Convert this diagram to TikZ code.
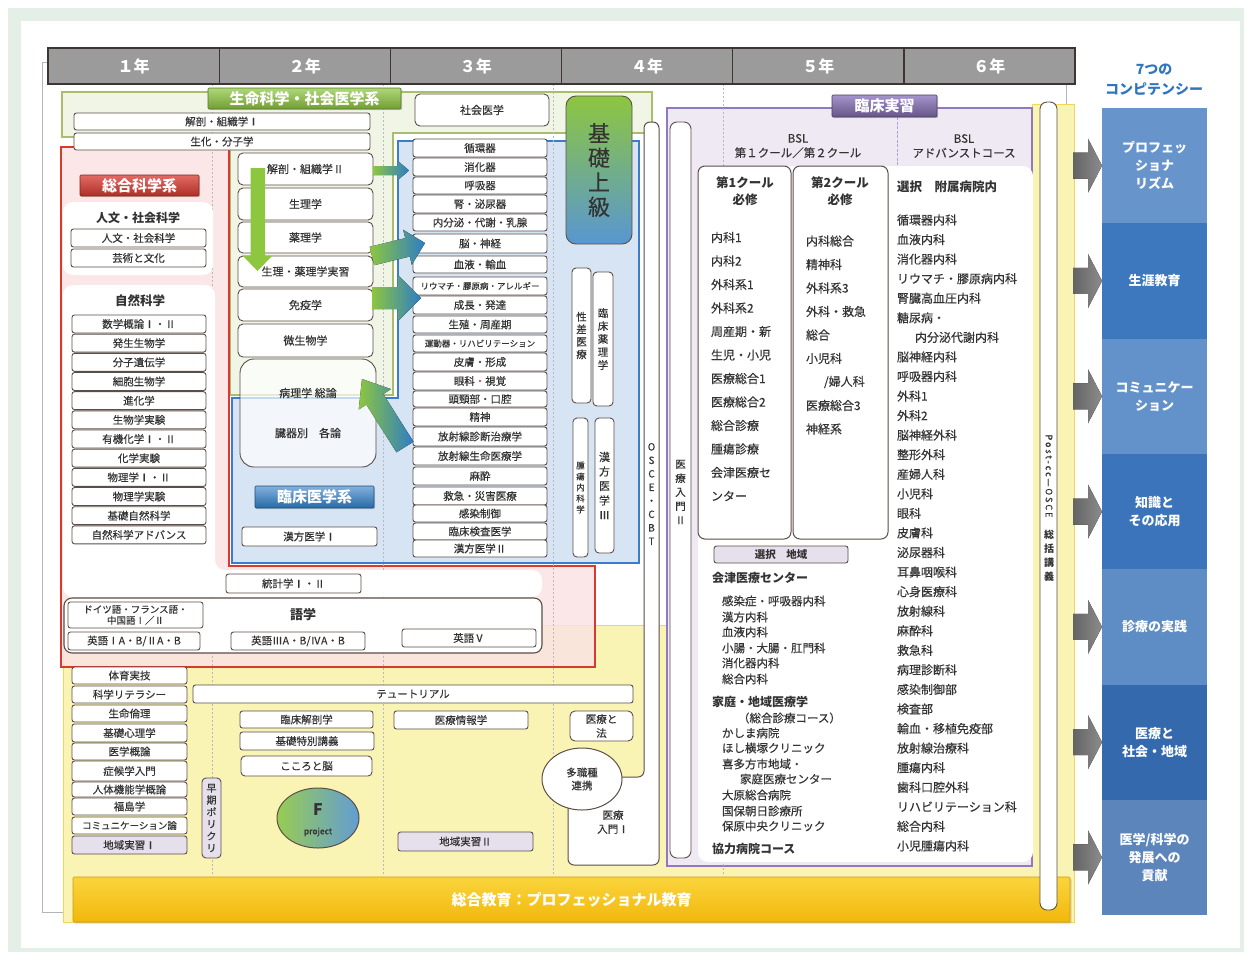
\documentclass[tikz,border=0pt]{standalone}
\usepackage{fontspec}
\setmainfont{Noto Sans CJK JP}[UprightFeatures={FakeBold=0.3}]
\usetikzlibrary{shapes.geometric,shadows}
\definecolor{pagebg}{HTML}{E4EFE8}
\definecolor{hdr}{HTML}{9B9B9B}
\definecolor{hdrl}{HTML}{3E3431}
\definecolor{frm}{HTML}{B5B5B5}
\definecolor{gfill}{HTML}{F1F5E6}
\definecolor{gline}{HTML}{A9BD6C}
\definecolor{rfill}{HTML}{FBE3E3}
\definecolor{rline}{HTML}{D93A30}
\definecolor{bfill}{HTML}{D7E4F3}
\definecolor{bline}{HTML}{3A7DCC}
\definecolor{yfill}{HTML}{FAF4B4}
\definecolor{yline}{HTML}{F2D65A}
\definecolor{pfill}{HTML}{EEE9F2}
\definecolor{pline}{HTML}{9079C0}
\definecolor{lav}{HTML}{E5E0EC}
\definecolor{bxl}{HTML}{5B4E48}
\definecolor{txt}{HTML}{333333}
\definecolor{agreen}{HTML}{8DC63F}
\definecolor{ablue}{HTML}{2E7CC6}
\definecolor{acyan}{HTML}{BFE3E0}
\definecolor{ttlblue}{HTML}{2F75C0}
\definecolor{gbar}{HTML}{6F6F6F}
\definecolor{orTop}{HTML}{FAD43C}
\definecolor{orBot}{HTML}{F2B80C}
\definecolor{cA}{HTML}{6694CB}
\definecolor{cB}{HTML}{3D78BE}
\definecolor{cC}{HTML}{6391C9}
\definecolor{cD}{HTML}{3B74BA}
\definecolor{cE}{HTML}{5E8DC6}
\definecolor{cF}{HTML}{3569AE}
\definecolor{cG}{HTML}{5C86BB}
\newcommand\fz[2]{\fontsize{#1}{#2}\selectfont}
\newcommand\bx[7][]{%
  \pgfmathsetmacro\bxw{#5-(#3)}%
  \pgfmathsetmacro\bxh{#6-(#4)}%
  \node[bx,minimum width=\bxw pt,minimum height=\bxh pt,anchor=north west,#1] (#2) at (#3,#4) {#7};}
\begin{document}
\begin{tikzpicture}[x=1pt,y=-1pt,
 every node/.style={inner sep=0pt,outer sep=0pt,text=txt},
 bx/.style={draw=bxl,line width=0.9pt,fill=white,rounded corners=2.5pt,font=\fz{10.5}{12},align=center},
 bxr/.style={rounded corners=5pt,font=\fz{11}{13}},
 hd/.style={fill=hdr,draw=hdrl,line width=1.3pt,rounded corners=0pt,text=white,font=\fz{16}{17}\bfseries},
 lab/.style={line width=0.6pt,rounded corners=1pt,text=white,font=\fz{15}{16}\bfseries,drop shadow={shadow xshift=1.2pt,shadow yshift=-1.2pt,opacity=0.35}},
 it/.style={anchor=west,font=\fz{12}{14}},
 itd/.style={anchor=west,font=\fz{11.5}{13}},
 itb/.style={anchor=west,font=\fz{12}{14}\bfseries},
 garrow/.style={left color=agreen,middle color=acyan,right color=ablue},
 ]
% page
\fill[white] (0,0) rectangle (1252,959);
\fill[pagebg] (8,8) rectangle (1244,952);
\fill[white] (21,21) rectangle (1240,948);
\useasboundingbox (0,0) rectangle (1252,959);
\draw[frm,line width=0.8pt] (42,62) rectangle (1066,912);
% regions
\draw[yline,fill=yfill,line width=1pt] (63,625) -- (1032,625) -- (1032,104) -- (1074,104) -- (1074,922) -- (63,922) -- cycle;
\draw[gline,fill=gfill,line width=1.3pt] (62,92) -- (652,92) -- (652,133) -- (393,133) -- (393,395) -- (230,395) -- (230,137) -- (62,137) -- cycle;
\draw[rline,fill=rfill,fill opacity=0.85,line width=1.5pt] (61,147) -- (229,147) -- (229,566) -- (595,566) -- (595,667) -- (61,667) -- cycle;
\draw[bline,fill=bfill,line width=1.2pt] (398,141) -- (639,141) -- (639,563) -- (232,563) -- (232,398) -- (398,398) -- cycle;
\draw[pline,fill=pfill,line width=1.3pt] (667,108) rectangle (1032,866);
\draw[pline!70,line width=0.8pt,dash pattern=on 3pt off 1.5pt] (897,108) -- (897,166);
% year separators
\foreach \xx in {212,383,553,723}
  \draw[gray!55,dash pattern=on 2pt off 2pt,line width=0.7pt] (\xx,84) -- (\xx,876);
% white panels
\fill[white,rounded corners=10pt] (63,202) rectangle (213,275);
\fill[white,rounded corners=10pt] (63,285) -- (215,285) -- (215,570) -- (542,570) -- (542,597) -- (63,597) -- cycle;
\fill[white,rounded corners=10pt] (698,166) -- (1033,166) -- (1033,862) -- (698,862) -- cycle;
% header
\foreach \l [count=\i from 0] in {１年,２年,３年,４年,５年,６年}{
  \pgfmathsetmacro\xa{48+\i*171.17}\pgfmathsetmacro\xb{48+(\i+1)*171.17}
  \bx[hd]{h\i}{\xa}{48}{\xb}{84}{\l}}
% labels
\bx[lab,top color=agreen!70!white,bottom color=agreen!80!black,draw=agreen!60!black]{lg}{208}{88}{401}{109}{生命科学・社会医学系}
\bx[lab,top color=rline!75!white,bottom color=rline!80!black,draw=rline!60!black]{lr}{80}{175}{199}{196}{総合科学系}
\bx[lab,top color=ablue!60!white,bottom color=ablue!85!black,draw=ablue!60!black]{lb}{255}{486}{374}{508}{臨床医学系}
\bx[lab,top color=pline!80!white,bottom color=pline!70!black,draw=pline!50!black]{lp}{832}{95}{937}{117}{臨床実習}
% green top boxes
\bx{g1}{74}{113}{370}{130}{解剖・組織学Ⅰ}
\bx{g2}{74}{133}{370}{150}{生化・分子学}
\bx[bxr]{g3}{415}{94}{549}{126}{社会医学}
% humanities
\node[font=\fz{12}{14}\bfseries] (hum) at (138,218) {人文・社会科学};
\bx{hu1}{71}{229}{206}{247}{人文・社会科学}
\bx{hu2}{71}{249}{206}{267}{芸術と文化}
\node[font=\fz{12.5}{14}\bfseries] (nat) at (140,301) {自然科学};
\foreach \t [count=\i from 0] in {数学概論Ⅰ・Ⅱ,発生生物学,分子遺伝学,細胞生物学,進化学,生物学実験,有機化学Ⅰ・Ⅱ,化学実験,物理学Ⅰ・Ⅱ,物理学実験,基礎自然科学,自然科学アドバンス}{
  \pgfmathsetmacro\ya{315+\i*19.17}\pgfmathsetmacro\yb{315+(\i+1)*19.17-1.2}
  \bx{ns\i}{72}{\ya}{206}{\yb}{\t}}
% column 2
\bx[bxr]{c2a}{238}{153}{373}{185}{解剖・組織学Ⅱ}
\bx[bxr]{c2b}{238}{188}{373}{220}{生理学}
\bx[bxr]{c2c}{238}{222}{373}{253}{薬理学}
\bx[bxr]{c2d}{238}{256}{373}{287}{生理・薬理学実習}
\bx[bxr]{c2e}{238}{289}{373}{321}{免疫学}
\bx[bxr]{c2f}{238}{324}{373}{357}{微生物学}
\bx[bxr,rounded corners=14pt,fill opacity=0.7,text opacity=1]{c2g}{240}{359}{376}{467}{}
\node[font=\fz{11}{13}] (pa1) at (308,393) {病理学 総論};
\node[font=\fz{11}{13}] (pa2) at (308,433) {臓器別\quad 各論};
\bx{k1}{242}{527}{377}{546}{漢方医学Ⅰ}
% column 3 stack
\foreach \t/\a/\b [count=\i] in {循環器/139/157,消化器/158/176,呼吸器/177/194,腎・泌尿器/195/213,内分泌・代謝・乳腺/214/231,脳・神経/234/253,血液・輸血/256/273,{\fz{8.5}{9}リウマチ・膠原病・アレルギー}/277/295,成長・発達/296/314,生殖・周産期/316/333,{\fz{8.5}{9}運動器・リハビリテーション}/335/352,皮膚・形成/353/371,眼科{\color{rline}・}視覚/372/390,頭頸部・口腔/391/407,精神/408/426,放射線診断治療学/427/446,放射線生命医療学/447/465,麻酔/467/485,救急・災害医療/487/505,感染制御/505/522,臨床検査医学/523/540,漢方医学Ⅱ/540/557}{
  \bx{s\i}{413}{\a}{547}{\b}{\t}}
% vertical boxes col3
\bx[rounded corners=10pt,top color=agreen,middle color=acyan,bottom color=ablue!80!white,font=\fz{22}{24.5},draw=bxl]{kj}{566}{96}{632}{244}{基\\礎\\上\\級}
\bx[rounded corners=4pt,font=\fz{10.5}{12.5}]{v1}{572}{268}{591}{403}{性\\差\\医\\療}
\bx[rounded corners=4pt,font=\fz{10.5}{13}]{v2}{593}{272}{613}{406}{臨\\床\\薬\\理\\学}
\bx[rounded corners=4pt,font=\fz{8.5}{11}]{v3}{573}{418}{588}{557}{腫\\瘍\\内\\科\\学}
\bx[rounded corners=4pt,font=\fz{11}{14.5}]{v4}{595}{418}{614}{553}{漢\\方\\医\\学\\Ⅲ}
% stats + language
\bx{st}{226}{574}{361}{593}{統計学Ⅰ・Ⅱ}
\bx[rounded corners=8pt,line width=1.1pt]{lang}{64}{598}{542}{653}{}
\node[font=\fz{13}{14}\bfseries] (langt) at (303,615) {語学};
\bx[font=\fz{9.5}{11}]{l1}{68}{602}{203}{628}{ドイツ語・フランス語・\\中国語Ⅰ／Ⅱ}
\bx{l2}{68}{632}{200}{650}{英語ⅠA・B/ⅡA・B}
\bx{l3}{231}{632}{365}{650}{英語ⅢA・B/ⅣA・B}
\bx{l4}{402}{629}{536}{647}{英語Ⅴ}
% yellow area
\foreach \t/\a/\b [count=\i] in {体育実技/667/684,科学リテラシー/686/703,生命倫理/705/722,基礎心理学/724/742,医学概論/743/760,症候学入門/761/781,人体機能学概論/782/797,福島学/798/815,{\fz{9.5}{10}コミュニケーション論}/817/834}{
  \bx{y\i}{72}{\a}{187}{\b}{\t}}
\bx[fill=lav]{y10}{72}{836}{187}{854}{地域実習Ⅰ}
\bx[fill=lav,rounded corners=4pt,font=\fz{10}{12}]{pol}{202}{778}{221}{858}{早\\期\\ポ\\リ\\ク\\リ}
\bx{tut}{193}{685}{633}{703}{テュートリアル}
\bx{ka}{240}{711}{373}{728}{臨床解剖学}
\bx{kt}{240}{732}{374}{750}{基礎特別講義}
\bx[rounded corners=4pt]{kk}{241}{756}{372}{776}{こころと脳}
\bx{ij}{394}{711}{528}{729}{医療情報学}
\bx[rounded corners=5pt,font=\fz{10.5}{14}]{ih}{570}{711}{633}{741}{医療と\\法}
\bx[fill=lav]{cj2}{398}{832}{533}{851}{地域実習Ⅱ}
\node[ellipse,draw=bxl,line width=1pt,minimum width=82pt,minimum height=60pt,left color=agreen!90!white,middle color=acyan,right color=ablue!75!white] (fp) at (318,818) {};
\node[font=\fz{16}{17}\bfseries] (fpF) at (318,810) {F};
\node[font=\fz{8.5}{9}] (fpp) at (318,832) {project};
% OSCE / 医療入門I
\draw[bxl,line width=1pt,fill=white,rounded corners=6pt] (644,777) -- (644,122) -- (659,122) -- (659,865) -- (568,865) -- (568,777) -- cycle;
\node[align=center,font=\fz{10}{13.5}] (osce) at (651.5,494) {O\\S\\C\\E\\・\\C\\B\\T};
\node[ellipse,draw=bxl,line width=1pt,fill=white,minimum width=80pt,minimum height=62pt,align=center,font=\fz{10.5}{13}] (tas) at (582,779) {多職種\\連携};
\node[align=center,font=\fz{10.5}{14}] (mi1) at (613,822) {医療\\入門Ⅰ};
% 医療入門II bar
\bx[rounded corners=7pt]{mi2}{670}{122}{691}{858}{}
\node[align=center,font=\fz{10.5}{14}] (mi2t) at (680.5,492) {医\\療\\入\\門\\Ⅱ};
% clinical
\node[align=center,font=\fz{11.5}{14.5}] (bsl1) at (798,146) {BSL\\第１クール／第２クール};
\node[align=center,font=\fz{11.5}{14.5}] (bsl2) at (964,146) {BSL\\アドバンストコース};
\bx[rounded corners=7pt,line width=1pt]{q1}{698}{166}{791}{539}{}
\bx[rounded corners=7pt,line width=1pt]{q2}{793}{166}{888}{539}{}
\node[align=center,font=\fz{12.5}{17.5}\bfseries] (q1t) at (745,191) {第1クール\\必修};
\node[align=center,font=\fz{12.5}{17.5}\bfseries] (q2t) at (840,191) {第2クール\\必修};
\foreach \t [count=\i from 0] in {内科1,内科2,外科系1,外科系2,周産期・新,生児・小児,医療総合1,医療総合2,総合診療,腫瘍診療,会津医療セ,ンター}{
  \node[it] (a\i) at (711,237.5+\i*23.5) {\t};}
\foreach \xx/\t [count=\i from 0] in {806/内科総合,806/精神科,806/外科系3,806/外科・救急,806/総合,806/小児科,824/{/婦人科},806/医療総合3,806/神経系}{
  \node[it] (b\i) at (\xx,241+\i*23.5) {\t};}
\node[itb,font=\fz{12.5}{14}\bfseries] (selt) at (897,187) {選択\quad 附属病院内};
\foreach \xx/\t [count=\i from 0] in {897/循環器内科,897/血液内科,897/消化器内科,897/リウマチ・膠原病内科,897/腎臓高血圧内科,897/糖尿病・,915/内分泌代謝内科,897/脳神経内科,897/呼吸器内科,897/外科1,897/外科2,897/脳神経外科,897/整形外科,897/産婦人科,897/小児科,897/眼科,897/皮膚科,897/泌尿器科,897/耳鼻咽喉科,897/心身医療科,897/放射線科,897/麻酔科,897/救急科,897/病理診断科,897/感染制御部,897/検査部,897/輸血・移植免疫部,897/放射線治療科,897/腫瘍内科,897/歯科口腔外科,897/リハビリテーション科,897/総合内科,897/小児腫瘍内科}{
  \node[it] (c\i) at (\xx,220+\i*19.56) {\t};}
\bx[fill=lav,font=\fz{10.5}{12}\bfseries]{sc}{714}{546}{848}{563}{選択\quad 地域}
\node[itb] (aiz) at (712,578) {会津医療センター};
\foreach \xx/\yy/\t [count=\i] in {722/601/感染症・呼吸器内科,722/617/漢方内科,722/632/血液内科,722/648/小腸・大腸・肛門科,722/663/消化器内科,722/679/総合内科,738/718/（総合診療コース）,722/733/かしま病院,722/748/ほし横塚クリニック,722/764/喜多方市地域・,740/779/家庭医療センター,722/795/大原総合病院,722/811/国保朝日診療所,722/826/保原中央クリニック}{
  \node[itd] (d\i) at (\xx,\yy) {\t};}
\node[itb] (kat) at (712,702) {家庭・地域医療学};
\node[itb] (kyo) at (712,849) {協力病院コース};
% bottom bar
\bx[top color=orTop,bottom color=orBot,draw=orBot!85!black,line width=0.6pt,rounded corners=1pt,text=white,font=\fz{15}{16}\bfseries,drop shadow={shadow xshift=1.5pt,shadow yshift=-1.5pt,opacity=0.3}]{bar}{73}{877}{1070}{922}{総合教育：プロフェッショナル教育}
% post-cc bar
\bx[rounded corners=7pt]{pcc}{1040}{102}{1057}{910}{}
\node[rotate=-90,font=\fz{9}{10}\addfontfeatures{LetterSpace=22}] (pcct) at (1049,476) {Post-cc—OSCE};
\node[align=center,font=\fz{10}{14}\bfseries] (pcc2) at (1049,556) {総\\括\\講\\義};
% gradient arrows
\fill[garrow] (373,166) -- (398,166) -- (398,161) -- (409,170.5) -- (398,180) -- (398,175) -- (373,175) -- cycle;
\fill[garrow] (369.7,246.8) -- (405.2,238.1) -- (403.2,229.8) -- (425,243) -- (411.8,264.8) -- (409.8,256.5) -- (374.3,265.2) -- cycle;
\fill[garrow] (372,287) -- (398,287) -- (398,275) -- (421,298) -- (398,321) -- (398,309) -- (372,309) -- cycle;
\fill[garrow] (413.5,441.7) -- (383.3,394.0) -- (390.9,389.1) -- (362,379) -- (358.7,409.5) -- (366.3,404.6) -- (396.5,452.3) -- cycle;
\fill[agreen] (250.5,168) -- (265,168) -- (265,256) -- (272,256) -- (257.5,271) -- (243,256) -- (250.5,256) -- cycle;
% competencies
\node[align=center,text=ttlblue,font=\fz{14}{20}\bfseries] (ctt) at (1154,80) {7つの\\コンピテンシー};
\foreach \c/\t [count=\i from 0] in {cA/{プロフェッ\\ショナ\\リズム},cB/生涯教育,cC/{コミュニケー\\ション},cD/{知識と\\その応用},cE/診療の実践,cF/{医療と\\社会・地域},cG/{医学/科学の\\発展への\\貢献}}{
  \pgfmathsetmacro\ya{108+\i*115.3}\pgfmathsetmacro\yb{108+(\i+1)*115.3}
  \pgfmathsetmacro\ym{108+(\i+0.5)*115.3}
  \bx[fill=\c,draw=none,rounded corners=0pt,text=white,font=\fz{13}{18}\bfseries]{cp\i}{1102}{\ya}{1207}{\yb}{\t}
  \fill[left color=gbar!90!black,right color=gbar!80!white] (1073,\ym-13) -- (1088,\ym-13) -- (1088,\ym-27) -- (1102,\ym) -- (1088,\ym+27) -- (1088,\ym+13) -- (1073,\ym+13) -- cycle;}
\end{tikzpicture}
\end{document}
